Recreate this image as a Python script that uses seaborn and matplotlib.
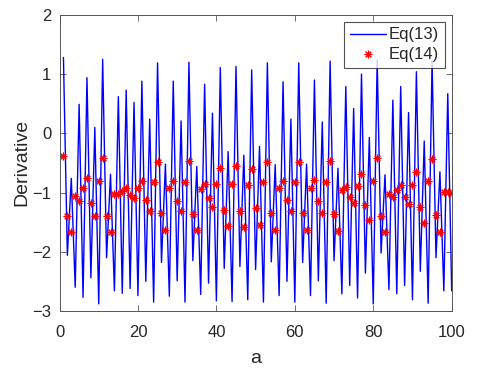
import numpy as np
import pandas as pd
import matplotlib
matplotlib.use("Agg")
import matplotlib.pyplot as plt
import seaborn as sns

# values, a = 1..100
a_vals = list(range(1, 101))

eq13 = [1.28, -2.06, -0.76, -2.60, 0.49, -2.77, 0.94, -2.44, 0.10, -2.88,
        1.25, -2.10, -0.69, -2.66, 0.62, -2.70, 0.73, -2.62, 0.52, -2.74,
        0.88, -2.50, 0.24, -2.85, 1.19, -2.18, -0.52,
        -2.75, 0.88, -2.49, 0.21, -2.85, 1.20, -2.15, -0.56, -2.72, 0.83,
        -2.53, 0.34, -2.83, 1.11, -2.28, -0.31, -2.84, 1.13, -2.25, -0.37,
        -2.81, 1.07, -2.30, -0.22, -2.85,
        1.19, -2.17, -0.53, -2.74, 0.87, -2.50, 0.24, -2.85, 1.19, -2.18,
        -0.52, -2.74, 0.90, -2.49, 0.19, -2.87, 1.22, -2.15, -0.59, -2.71,
        0.79, -2.57, 0.42, -2.78, 1.00,
        -2.36, -0.07, -2.88, 1.24, -2.02, -0.70, -2.64, 0.56, -2.71, 0.79,
        -2.57, 0.35, -2.81, 1.04, -2.33, -0.13, -2.87, 1.22, -2.10, -0.65,
        -2.66, 0.67, -2.66]

eq14 = [-0.39, -1.40, -1.67, -1.05, -1.14, -0.92, -0.75, -1.17, -1.39, -0.81,
        -0.42, -1.39, -1.66, -1.02, -1.03, -0.97, -0.93, -1.04, -1.10, -0.93,
        -0.80, -1.13, -1.31, -0.83, -0.48, -1.34, -1.63,
        -0.93, -0.80, -1.14, -1.32, -0.83, -0.47, -1.36, -1.64, -0.94, -0.85,
        -1.10, -1.24, -0.86, -0.58, -1.29, -1.56, -0.85, -0.56, -1.31, -1.58,
        -0.87, -0.61, -1.26, -1.54, -0.83,
        -0.48, -1.35, -1.63, -0.93, -0.81, -1.13, -1.31, -0.83, -0.49, -1.35,
        -1.63, -0.93, -0.79, -1.15, -1.34, -0.83, -0.46, -1.37, -1.65, -0.96,
        -0.90, -1.07, -1.18, -0.89, -0.69,
        -1.21, -1.47, -0.80, -0.41, -1.39, -1.66, -1.02, -1.07, -0.96, -0.88,
        -1.08, -1.19, -0.88, -0.65, -1.24, -1.51, -0.80, -0.43, -1.38, -1.66,
        -0.99, -0.99, -1.01]

x_ticks = [0, 20, 40, 60, 80, 100]
y_ticks = [-3, -2, -1, 0, 1, 2]

df = pd.DataFrame({"a": a_vals, "eq13": eq13, "eq14": eq14})

sns.set_style("white")
plt.rcParams["font.family"] = ["Liberation Sans", "DejaVu Sans"]
text_col = "#262626"

fig = plt.figure(figsize=(4.8, 3.72), dpi=100)
ax = fig.add_axes([0.124, 0.164, 0.817, 0.796])

sns.lineplot(data=df, x="a", y="eq13", color="#0000ff", linewidth=1.0,
             label="Eq(13)", ax=ax)
ax.plot(df["a"], df["eq14"], linestyle="none", marker=(8, 2, 0),
        markersize=5.5, markeredgewidth=0.8, color="#ff0000", label="Eq(14)")

ax.set_xlim(0, 100)
ax.set_ylim(-3, 2)
ax.set_xticks(x_ticks)
ax.set_yticks(y_ticks)
ax.tick_params(direction="in", length=4, width=0.6, colors="#555555",
               labelcolor=text_col, labelsize=12, top=True, right=True,
               bottom=True, left=True)
ax.tick_params(axis="x", pad=10)
ax.tick_params(axis="y", pad=6)
for s in ax.spines.values():
    s.set_visible(True)
    s.set_color("#555555")
    s.set_linewidth(0.7)

ax.set_xlabel("a", fontsize=14, color=text_col, labelpad=7)
ax.set_ylabel("Derivative", fontsize=14, color=text_col, labelpad=1)

leg = ax.legend(loc="upper right", fontsize=12, handlelength=2.2,
                frameon=True, fancybox=False, borderaxespad=0.4,
                borderpad=0.35, labelspacing=0.3, handletextpad=0.15)
leg.get_frame().set_edgecolor("#262626")
leg.get_frame().set_linewidth(0.8)
for t in leg.get_texts():
    t.set_color(text_col)

fig.savefig("out.png", dpi=100)
